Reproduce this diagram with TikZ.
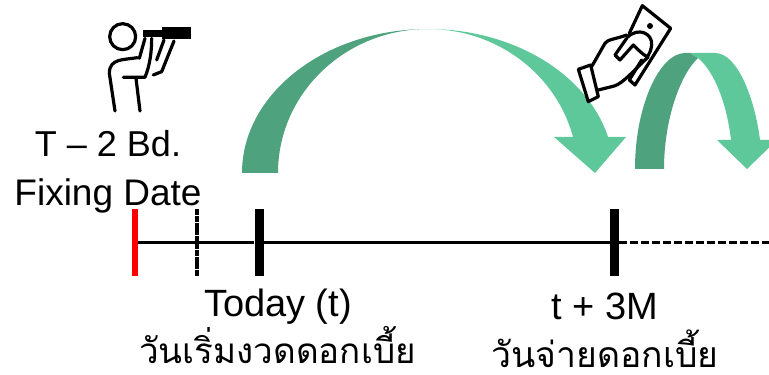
\documentclass[tikz,border=0pt]{standalone}
\usepackage{fontspec}
\setmainfont{Liberation Sans}
\newfontfamily\thaifont[Script=Thai]{Loma}
\definecolor{arcdark}{HTML}{4EA27D}
\definecolor{arclight}{HTML}{5FC89B}
\tikzset{
  tick/.style={inner sep=0pt,minimum width=9pt,minimum height=67pt,fill=black},
  axis/.style={line width=3pt},
  label/.style={inner sep=0pt,anchor=base,font=\fontsize{38}{38}\selectfont},
  thailabel/.style={inner sep=0pt,anchor=base,font=\thaifont\fontsize{35}{35}\selectfont},
  icon/.style={line width=3.2pt,line join=round,line cap=round},
}
\begin{document}
\begin{tikzpicture}[x=1pt,y=1pt]
\useasboundingbox (0,0) rectangle (769,375);
% arrows
\fill[arcdark] (242,202) arc (180:90:186 and 144) arc (90:180:150 and 144) -- cycle;
\fill[arclight] (428,346) arc (90:14.48:186 and 144) -- (626,238) -- (595,202) -- (554,238) -- (573,238) arc (14.48:90:150 and 144) -- cycle;
\fill[arcdark] (635,206) .. controls (635,270) and (660,322) .. (685,322) -- (690,322) -- (698,317) .. controls (680,300) and (664,255) .. (664,206) -- cycle;
\fill[arclight] (690,322) -- (715,322) .. controls (738,322) and (755,275) .. (760,235) -- (769,235) -- (769,227.3) -- (747,206) -- (717,235) -- (731,235) .. controls (727,270) and (715,303) .. (698,317) -- cycle;
% time line
\node[tick,minimum width=6pt,fill=red] (fixing) at (135,132.5) {};
\node[tick] (today) at (259,132.5) {};
\node[tick] (pay) at (614.5,132.5) {};
\coordinate (spottop) at (197,166);
\coordinate (spotbot) at (197,99);
\coordinate (axisend) at (769,132.5);
\draw[axis] (fixing) -- (today);
\draw[axis] (today) -- (pay);
\draw[line width=2.2pt,dash pattern=on 8pt off 3pt] (pay) -- (axisend);
\draw[line width=3.5pt,dash pattern=on 6pt off 0.8pt] (spottop) -- (spotbot);
% labels
\node[label,font=\fontsize{36}{36}\selectfont] (fixa) at (108,218) {T -- 2 Bd.};
\node[label,font=\fontsize{37}{37}\selectfont] (fixb) at (108,169) {Fixing Date};
\node[label] (todaya) at (278,58) {Today (t)};
\node[label] (paya) at (605,55) {t + 3M};
\node[thailabel] (todayb) at (277.5,11) {วันเริ่มงวดดอกเบี้ย};
\node[thailabel,font=\thaifont\fontsize{35.5}{35.5}\selectfont] (payb) at (605,7) {วันจ่ายดอกเบี้ย};
% man with telescope
\begin{scope}[shift={(100,360)},x=0.3333pt,y=-0.3333pt]
\draw[icon] (68,65) circle (39);
\fill (130,44) rectangle (190,66);
\fill (187,35) rectangle (272,72);
\draw[icon] (112,128) .. controls (70,135) and (28,130) .. (28,175) -- (45,288);
\draw[icon] (108,190) -- (120,288);
\draw[icon] (70,187) -- (135,187) .. controls (150,150) and (155,110) .. (155,70);
\draw[icon] (135,70) -- (118,130);
\draw[icon] (192,75) -- (170,135);
\draw[icon] (222,78) -- (185,170) -- (160,180);
\end{scope}
% hand with banknote
\begin{scope}[shift={(570,375)},x=0.3333pt,y=-0.3333pt]
\draw[icon] (178,100) -- (217,17) -- (302,85) -- (195,255) -- (178,240) -- (215,180);
\draw[icon] (172,112) .. controls (205,80) and (248,100) .. (245,135) .. controls (243,150) and (240,160) .. (230,172);
\fill (240,78) circle (9);
\draw[icon] (25,208) -- (62,195) -- (85,290) -- (55,305) -- cycle;
\draw[icon] (65,200) -- (105,130) .. controls (112,118) and (135,118) .. (170,105);
\draw[icon] (170,115) -- (135,165) -- (150,180) -- (190,135) .. controls (205,150) and (215,160) .. (230,170);
\draw[icon] (85,270) -- (125,260) .. controls (150,255) and (165,240) .. (235,170);
\end{scope}
\end{tikzpicture}
\end{document}
